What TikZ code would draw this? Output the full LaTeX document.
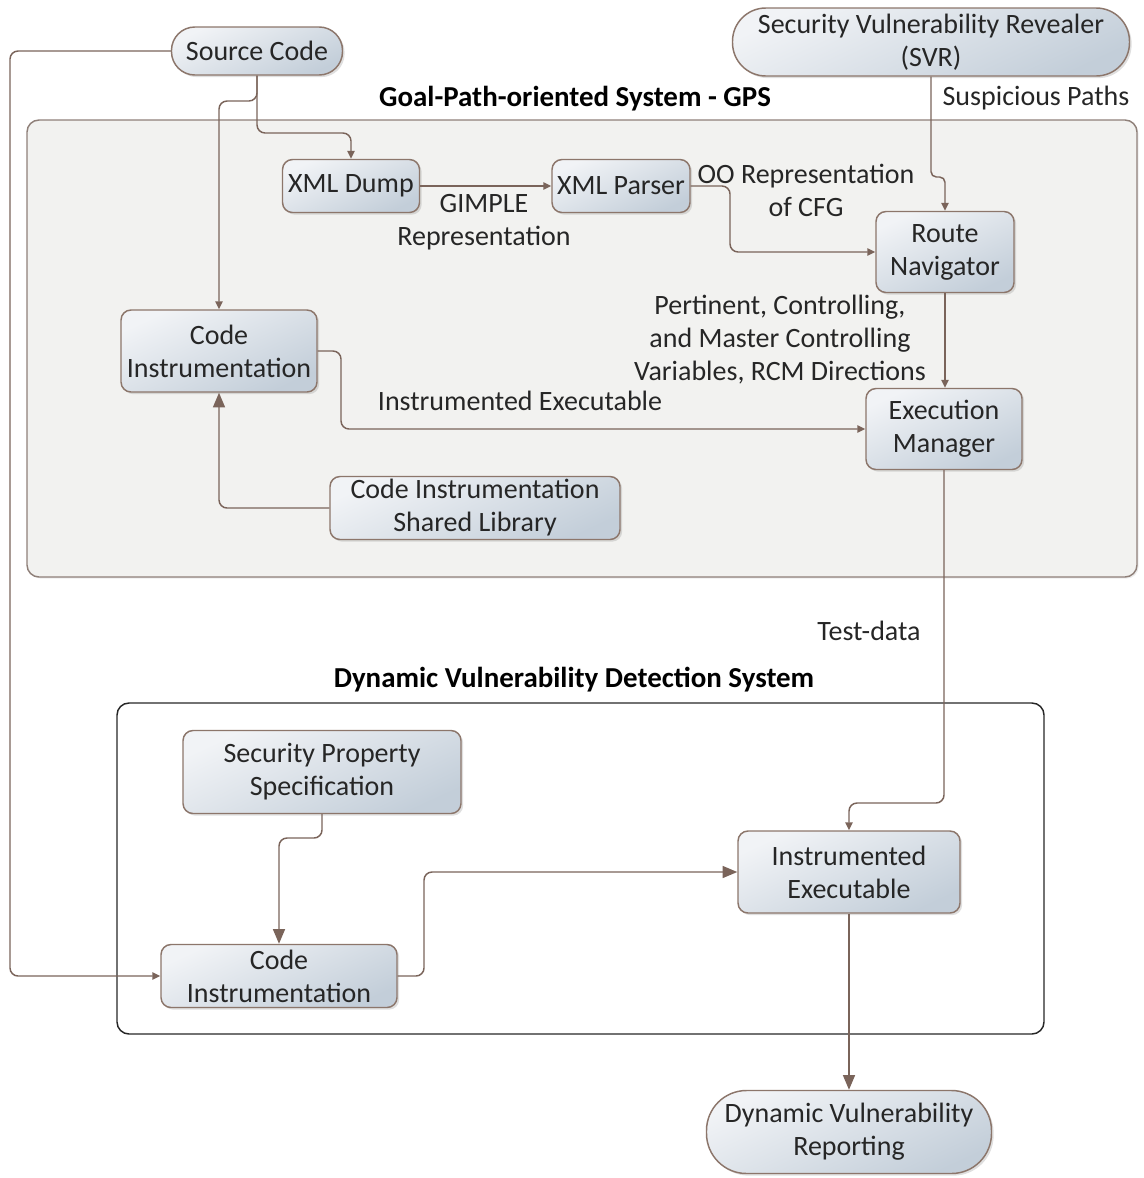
\documentclass[tikz,border=0pt]{standalone}
\usepackage{fontspec}
\setmainfont{Carlito}
\usetikzlibrary{shadows,arrows.meta}

\definecolor{wire}{HTML}{7A645A}
\definecolor{boxedge}{HTML}{8C766B}
\definecolor{fillA}{HTML}{F1F3F6}
\definecolor{fillB}{HTML}{C3CED9}
\definecolor{panel}{HTML}{F2F2F0}
\definecolor{paneledge}{HTML}{8F8079}
\definecolor{txt}{HTML}{262626}

\newcommand{\bodyfont}{\fontsize{21pt}{24.75pt}\selectfont}
\newcommand{\headfont}{\fontsize{21.7pt}{25pt}\selectfont\bfseries}

\tikzset{
  proc/.style={draw=boxedge, line width=1.1pt, rounded corners=7.5pt,
    top color=fillA, bottom color=fillB, shading angle=25,
    drop shadow={shadow xshift=1.6pt, shadow yshift=-1.6pt, opacity=0.25},
    align=center, inner sep=0pt, text=txt, font=\bodyfont},
  term/.style={proc},
  flow/.style={draw=wire, line width=1.1pt, rounded corners=6pt,
    -{Triangle[length=6pt,width=5.5pt]}},
  bigflow/.style={flow, -{Triangle[length=11pt,width=9pt]}},
  lbl/.style={align=center, text=txt, font=\bodyfont, inner sep=0pt},
  head/.style={text=black, font=\headfont, inner sep=0pt},
}

\begin{document}
\begin{tikzpicture}[x=0.75pt,y=-0.75pt]
\useasboundingbox (0,0) rectangle (1143,1178);

% system panels
\draw[paneledge, line width=1.1pt, fill=panel, rounded corners=9pt,
  drop shadow={shadow xshift=1.2pt, shadow yshift=-1.2pt, opacity=0.15}]
  (27,120) rectangle (1137,577);
\draw[black!85, line width=1.1pt, rounded corners=9pt] (117,703) rectangle (1044,1034);
\node[head] (gpst) at (575,99) {Goal-Path-oriented System - GPS};
\node[head] (dvdst) at (574,680) {Dynamic Vulnerability Detection System};

% nodes
\node[term, minimum width=128.25pt, minimum height=36pt, rounded corners=17.5pt] (src) at (257,51) {Source Code};
\node[term, minimum width=297.75pt, minimum height=51pt, rounded corners=25pt] (svr) at (931,42) {Security Vulnerability Revealer\\(SVR)};
\node[proc, minimum width=102.75pt, minimum height=39.75pt] (xmld) at (351,186) {XML Dump};
\node[proc, minimum width=103.5pt, minimum height=39.75pt] (xmlp) at (621,186) {XML Parser};
\node[proc, minimum width=103.5pt, minimum height=60.75pt] (route) at (945,252) {Route\\Navigator};
\node[proc, minimum width=147pt, minimum height=61.5pt] (ci1) at (219,351) {Code\\Instrumentation};
\node[proc, minimum width=117pt, minimum height=60.75pt] (exec) at (944,429) {Execution\\Manager};
\node[proc, minimum width=217.5pt, minimum height=47.25pt] (lib) at (475,508) {Code Instrumentation\\Shared Library};
\node[proc, minimum width=208.5pt, minimum height=62.25pt] (spec) at (322,772) {Security Property\\Specification};
\node[proc, minimum width=166.5pt, minimum height=61.5pt] (iexe) at (849,872) {Instrumented\\Executable};
\node[proc, minimum width=177pt, minimum height=47.25pt] (ci2) at (279,976) {Code\\Instrumentation};
\node[term, minimum width=213.75pt, minimum height=62.25pt, rounded corners=30pt] (dvr) at (849,1132) {Dynamic Vulnerability\\Reporting};

% connectors
\draw[flow] (src.south) -- (257,101) -- (219,101) -- (ci1.north);
\draw[flow] (src.south) -- (257,133) -- (351,133) -- (xmld.north);
\draw[flow] (xmld.east) -- (xmlp.west);
\draw[flow] (xmlp.east) -- (730,186) -- (730,252) -- (route.west);
\draw[flow, rounded corners=4pt] (svr.south) -- (931,177) -- (945,177) -- (route.north);
\draw[flow] (route.south) -- (route.south |- exec.north);
\draw[flow] (ci1.east) -- (341,351) -- (341,429) -- (exec.west);
\draw[bigflow] (lib.west) -- (219,508) -- (ci1.south);
\draw[flow] (exec.south) -- (944,803) -- (849,803) -- (iexe.north);
\draw[flow] (src.west) -- (10,51) -- (10,976) -- (ci2.west);
\draw[bigflow] (spec.south) -- (322,838) -- (279,838) -- (ci2.north);
\draw[bigflow] (ci2.east) -- (424,976) -- (424,872) -- (iexe.west);
\draw[bigflow] (iexe.south) -- (dvr.north);

% connector labels
\node[lbl] (l1) at (484,222) {GIMPLE\\Representation};
\node[lbl] (l2) at (806,190) {OO Representation\\of CFG};
\node[lbl] (l3) at (1036,98) {Suspicious Paths};
\node[lbl] (l4) at (780,340) {Pertinent, Controlling,\\and Master Controlling\\Variables, RCM Directions};
\node[lbl] (l5) at (520,401) {Instrumented Executable};
\node[lbl] (l6) at (869,631) {Test-data};
\end{tikzpicture}
\end{document}
